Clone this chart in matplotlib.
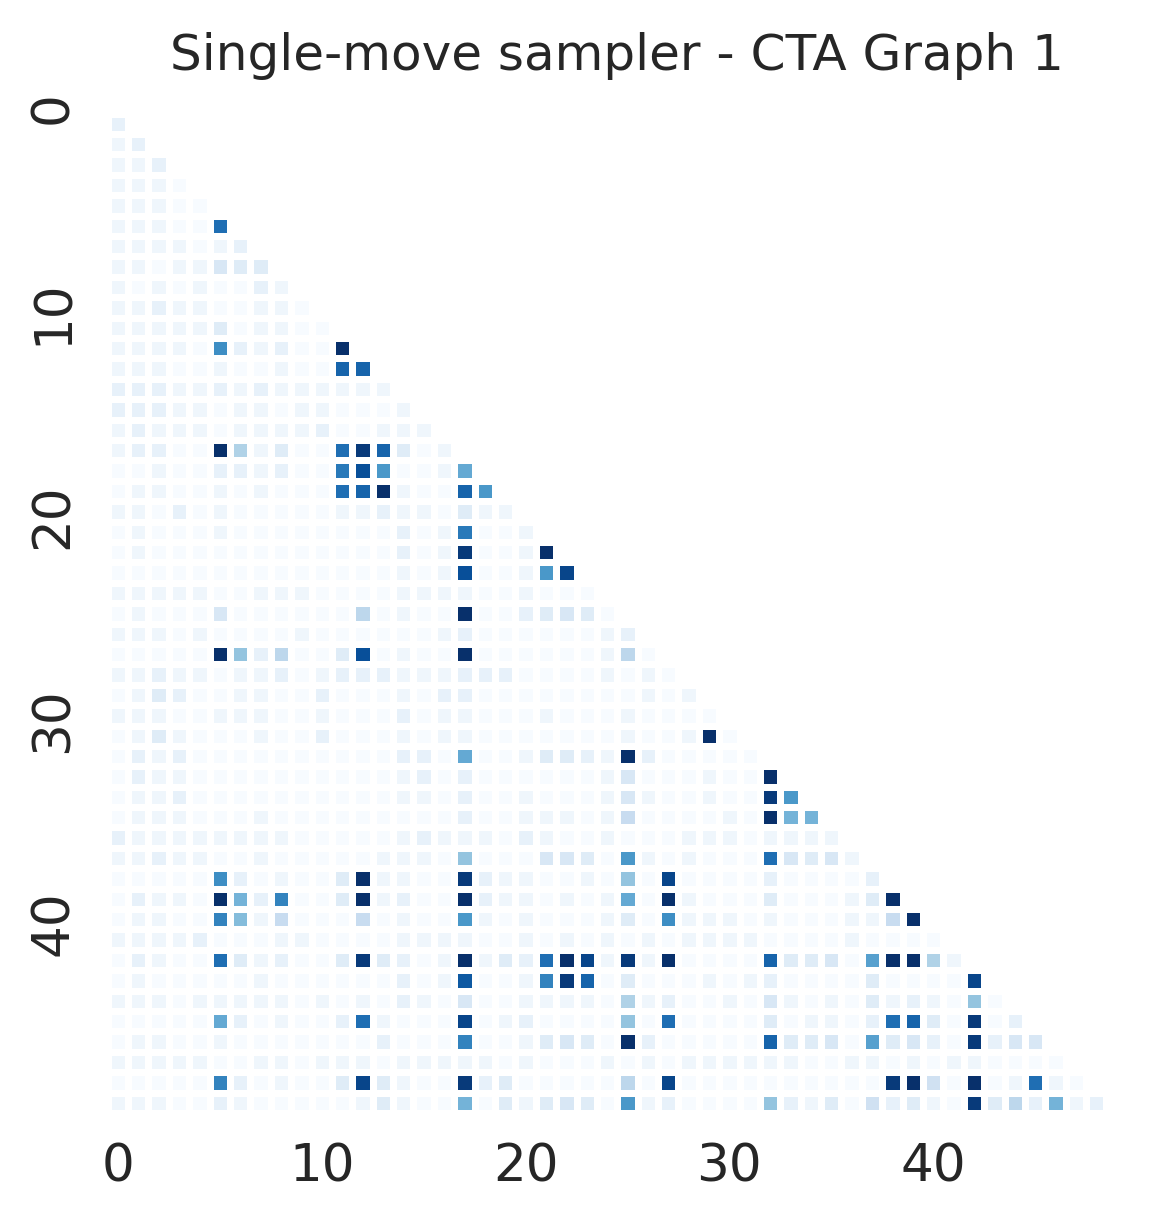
import numpy as np
import matplotlib
matplotlib.use('Agg')
import matplotlib.pyplot as plt
import matplotlib.transforms as mtransforms

# Intensity codes per row of the lower triangle (row i has i+1 cells).
# 'a' = 0.0 ... 'z' = 1.0 on the Blues scale.
rows = [
    "c",
    "bc",
    "bbc",
    "bbba",
    "bbbaa",
    "bbbaat",
    "bbbbabc",
    "bbabbedd",
    "bababaacb",
    "bbcbbaabba",
    "bbbbbdabbaa",
    "bbbbaqcbcaaz",
    "bbbaabaabaauu",
    "cccbbcbcbbbbbb",
    "cccbbabbabbaaab",
    "bcbbbabbbbcaabbb",
    "bccaazibdaatyudab",
    "aabaaccbcaaswpaabn",
    "abbaababaaatuzbaaup",
    "bbacabaaaaabbcbbadbb",
    "abaaabaaaaaaaacabsaab",
    "abaaaaaaaaaaaacabyaabz",
    "aaaaaaaaaaaaaababwaabpx",
    "bbbbbaabbbaaaabbbbaabaaa",
    "abaaaeaaaaaahabaazaacdeda",
    "bbbabaaaabaaaaaabcaaaaaabc",
    "aaaaazkchaadwabaazaaaaaabha",
    "bbcbbabbcabcccbbbcccaaaababa",
    "abdcaabbaacaaabaccaaaaaaaabab",
    "bbbaabbbaabaaacabbaaabaaabaaaa",
    "abdbaaabaacaaababbaaaaaaabaabza",
    "acbcaaaaaaaaaaccanaabddcbzcaaaaa",
    "acbbaaaaaaaaaabcacaaaaaabeaaabaaz",
    "abbcaaaaaaaaaabbacaabaaabebaabaayp",
    "abbbaaabaaaaaaaaacaabbbabgaaaabazmm",
    "cbbbbbbbbaaaaabcbbbacbaabaaabbbabbbb",
    "bbcbbaabaaaaabbbakaaaeedapbabaaatedeb",
    "aaaaaqcabaadzbbaaycbbaabakaxaaaacaaaac",
    "acbbazmcraadzbcaazcbbababnazbaaadaaabdz",
    "abbaarlbgaaagabaapbabaaabdaqbbbabaaabbgz",
    "bbbbcaaabbaaaabbbbaabababababbbbaaaabaaaa",
    "acbaatdbcaadydcabzbdctzxbybzaaaauddeaozzib",
    "abaaaaabaaaaaacabvaabryuadaaababcaaaadaaaax",
    "bbbabbbbbababacbaeaabbbbaibcaabaebabadbcbaka",
    "aaaaancabaactbaaaxabcaaaakataaaadabbactudayac",
    "abbaabaaaaaaacaaaraabdedazcaaaaauddeaodecaycee",
    "bbbbbaabbabbbabbbbbabaaabababbbbbbaabbababbaaaa",
    "aaaaarcabaadxdbaaycdaaaaahaxaaaaaaaaaayzfazabtba",
    "bbbaacbaaaaabdbaamadbdedapbcaaaakcbdafcdbaydhcmbc",
]
title = "Single-move sampler - CTA Graph 1"
tick_values = [0, 10, 20, 30, 40]

n = len(rows)
mat = np.full((n, n), np.nan)
for i, r in enumerate(rows):
    for j, ch in enumerate(r):
        mat[i, j] = (ord(ch) - ord('a')) / 25.0
data = np.ma.masked_invalid(mat)

fig = plt.figure(figsize=(5.785, 6.1), dpi=200)
ax = fig.add_axes([0.0931, 0.0877, 0.8632, 0.8191])

edges = np.arange(n + 1) - 0.5
ax.pcolormesh(edges, edges, data, cmap='Blues', vmin=0, vmax=1,
              edgecolors='white', linewidth=1.95)
ax.set_xlim(-0.5, n - 0.5)
ax.set_ylim(n - 0.5, -0.5)

for s in ax.spines.values():
    s.set_visible(False)

text_color = '#262626'
ax.set_xticks(tick_values)
ax.set_yticks(tick_values)
ax.set_xticklabels([str(t) for t in tick_values])
ax.set_yticklabels([str(t) for t in tick_values], rotation=90, va='center')
ax.tick_params(axis='both', length=0, pad=10.5, labelsize=18.6,
               labelcolor=text_color)

# y labels sit a little above the cell centres in the reference
shift = mtransforms.ScaledTranslation(0, 16 / 200, fig.dpi_scale_trans)
for lab in ax.get_yticklabels():
    lab.set_transform(lab.get_transform() + shift)

ax.set_title(title, fontsize=18.05, color=text_color, pad=15.8, x=0.51)

fig.savefig('out.png', dpi=200, facecolor='white')
